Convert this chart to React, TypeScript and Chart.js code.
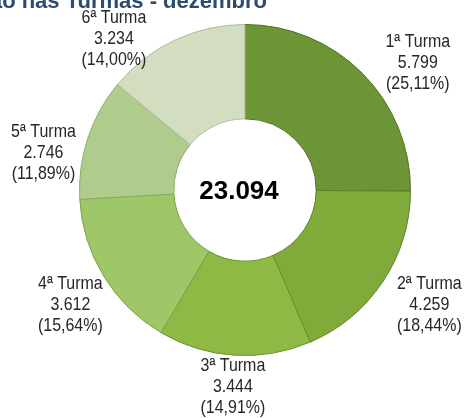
import React, { useEffect, useRef } from "react";
import { Chart, registerables } from "chart.js";

Chart.register(...registerables);

const TITLE = "Distribuição nas Turmas - dezembro";
const CATEGORIES = ["1ª Turma", "2ª Turma", "3ª Turma", "4ª Turma", "5ª Turma", "6ª Turma"];
const VALUES = [5799, 4259, 3444, 3612, 2746, 3234];
const VALUE_LABELS = ["5.799", "4.259", "3.444", "3.612", "2.746", "3.234"];
const PCT_LABELS = ["(25,11%)", "(18,44%)", "(14,91%)", "(15,64%)", "(11,89%)", "(14,00%)"];
const TOTAL_LABEL = "23.094";

const COLORS = ["#6E9535", "#80AA3A", "#8DB944", "#9FC767", "#B0CC8C", "#D3DEC1"];
const EDGE = ["#4F6E22", "#5E8228", "#6A9130", "#7CA248", "#8EAA6A", "#AEBD98"];
// label placement nudges (layout only)
const NUDGE = [[26, 19], [12, 0], [1, -10], [2, 7], [-5, 27], [-43, 36]];

const LABEL_FONT = '19px "Liberation Sans", Arial, sans-serif';

const labelPlugin = {
  id: "outerLabels",
  afterDraw(chart: any) {
    const ctx = chart.ctx;
    const meta = chart.getDatasetMeta(0);
    ctx.save();
    // title (top clipped as in the reference)
    ctx.font = 'bold 22px "Liberation Sans", Arial, sans-serif';
    ctx.fillStyle = "#2B4C6F";
    ctx.textAlign = "right";
    ctx.textBaseline = "alphabetic";
    ctx.fillText(TITLE, 267, 8);

    ctx.font = LABEL_FONT;
    ctx.fillStyle = "#262626";
    ctx.textAlign = "center";
    ctx.textBaseline = "middle";
    meta.data.forEach((arc: any, i: number) => {
      const mid = (arc.startAngle + arc.endAngle) / 2;
      const r = arc.outerRadius * 1.25;
      const cx = arc.x + Math.cos(mid) * r + NUDGE[i][0];
      const cy = arc.y + Math.sin(mid) * r + NUDGE[i][1];
      const lines = [CATEGORIES[i], VALUE_LABELS[i], PCT_LABELS[i]];
      lines.forEach((t, k) => {
        ctx.save();
        ctx.translate(cx, cy + (k - 1) * 21);
        ctx.scale(0.84, 1);
        ctx.fillText(t, 0, 0);
        ctx.restore();
      });
    });

    const a0 = meta.data[0];
    ctx.font = 'bold 26px "Liberation Sans", Arial, sans-serif';
    ctx.fillStyle = "#000";
    ctx.fillText(TOTAL_LABEL, a0.x - 6, a0.y + 2);
    ctx.restore();
  },
};

export default function App() {
  const ref = useRef<HTMLCanvasElement>(null);
  useEffect(() => {
    if (!ref.current) return;
    const chart = new Chart(ref.current, {
      type: "doughnut",
      data: {
        labels: CATEGORIES,
        datasets: [
          {
            data: VALUES,
            backgroundColor: (c: any) => {
              const i = c.dataIndex;
              const el = c.chart.getDatasetMeta(0).data[i];
              const ca = c.chart.chartArea;
              if (!el || !ca || !el.outerRadius) return COLORS[i];
              const g = c.chart.ctx.createRadialGradient(el.x, el.y, el.innerRadius, el.x, el.y, el.outerRadius);
              g.addColorStop(0, EDGE[i]);
              g.addColorStop(0.06, COLORS[i]);
              g.addColorStop(0.9, COLORS[i]);
              g.addColorStop(1, EDGE[i]);
              return g;
            },
            borderColor: EDGE,
            borderWidth: 1,
          },
        ],
      },
      options: {
        responsive: false,
        animation: false,
        cutout: "43%",
        layout: { padding: { left: 79, top: 24, right: 57, bottom: 62 } },
        plugins: { legend: { display: false }, tooltip: { enabled: false }, title: { display: false } },
      },
      plugins: [labelPlugin],
    });
    return () => chart.destroy();
  }, []);
  return (
    <div style={{ position: "fixed", left: 0, top: 0, width: 468, height: 418, background: "#fff" }}>
      <canvas ref={ref} width={468} height={418} style={{ width: 468, height: 418 }} />
    </div>
  );
}
